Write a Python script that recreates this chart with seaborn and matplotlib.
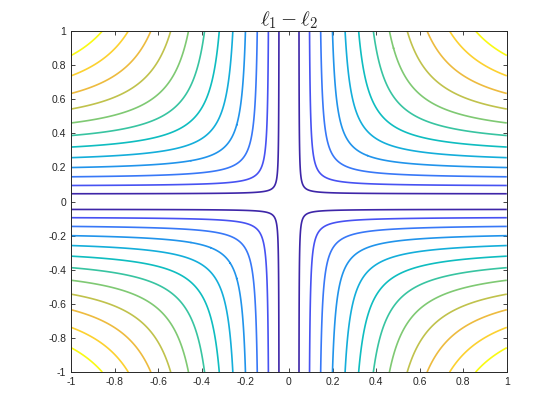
import numpy as np
import matplotlib
matplotlib.use("Agg")
import matplotlib.pyplot as plt
import seaborn as sns
from matplotlib.colors import LinearSegmentedColormap

sns.set_theme(style="white")
plt.rcParams['font.family'] = ['Liberation Sans', 'DejaVu Sans']
plt.rcParams['mathtext.fontset'] = 'cm'

# grid and contour levels
x_values = np.linspace(-1, 1, 601)
y_values = np.linspace(-1, 1, 601)
levels = [0.045, 0.09, 0.135, 0.18, 0.225, 0.27, 0.315, 0.36, 0.405, 0.45, 0.495, 0.54]
tick_values = [-1, -0.8, -0.6, -0.4, -0.2, 0, 0.2, 0.4, 0.6, 0.8, 1]
tick_labels = ["-1", "-0.8", "-0.6", "-0.4", "-0.2", "0", "0.2", "0.4", "0.6", "0.8", "1"]

X, Y = np.meshgrid(x_values, y_values)
Z = np.abs(X) + np.abs(Y) - np.sqrt(X**2 + Y**2)

parula_anchors = [
    (0.0, (0.2422, 0.1504, 0.6603)),
    (0.09, (0.28, 0.32, 0.95)),
    (0.18, (0.22, 0.47, 0.97)),
    (0.27, (0.13, 0.58, 0.92)),
    (0.36, (0.08, 0.68, 0.86)),
    (0.45, (0.05, 0.74, 0.76)),
    (0.545, (0.22, 0.77, 0.63)),
    (0.636, (0.50, 0.79, 0.45)),
    (0.727, (0.75, 0.76, 0.30)),
    (0.818, (0.93, 0.73, 0.25)),
    (0.909, (0.99, 0.82, 0.19)),
    (1.0, (0.975, 0.98, 0.08)),
]
parula = LinearSegmentedColormap.from_list("parula", parula_anchors)
colors = sns.color_palette([parula(i / (len(levels) - 1)) for i in range(len(levels))])

fig = plt.figure(figsize=(5.6, 4.2), dpi=100)
ax = fig.add_axes([0.127, 0.114, 0.778, 0.812])
ax.contour(X, Y, Z, levels=levels, colors=colors, linewidths=1.2)
ax.set_xlim(-1, 1)
ax.set_ylim(-1, 1)
ax.set_xticks(tick_values)
ax.set_xticklabels(tick_labels)
ax.set_yticks(tick_values)
ax.set_yticklabels(tick_labels)
ax.tick_params(direction='in', length=3, width=0.6, labelsize=7.5, colors='#262626',
               top=True, right=True, bottom=True, left=True)
for s in ax.spines.values():
    s.set_color('#262626')
    s.set_linewidth(0.7)
ax.set_title(r'$\ell_1 - \ell_2$', fontsize=15, pad=4)
fig.savefig("out.png", dpi=100)
